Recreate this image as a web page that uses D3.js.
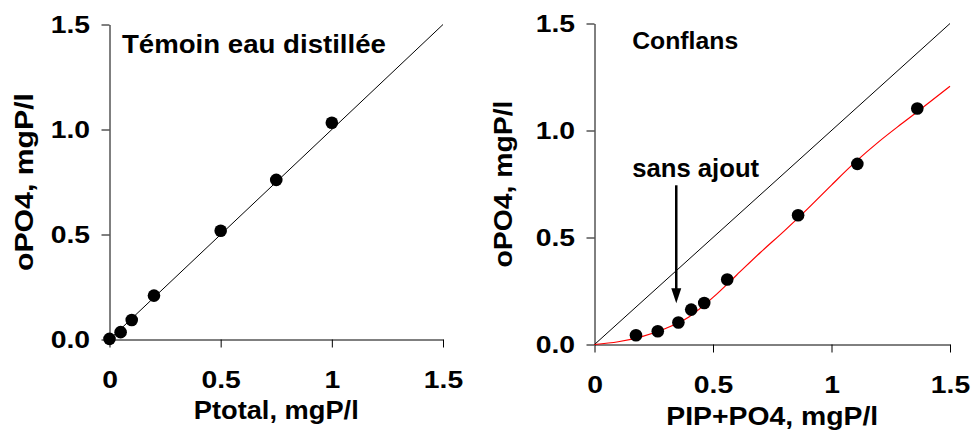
<!DOCTYPE html>
<html>
<head>
<meta charset="utf-8">
<script src="https://cdn.jsdelivr.net/npm/d3@7"></script>
<style>
  body { margin: 0; background: #fff; }
  svg { display: block; font-family: "Liberation Sans", Arial, sans-serif; }
</style>
</head>
<body>
<svg id="chart" width="971" height="435"></svg>
<script>
// left panel : distilled water control
const leftX = [0, 0.05, 0.1, 0.2, 0.5, 0.75, 1.0];
const leftY = [0.003, 0.035, 0.093, 0.209, 0.518, 0.76, 1.032];

// right panel : Conflans
const rightX = [0.175, 0.267, 0.354, 0.408, 0.463, 0.56, 0.859, 1.109, 1.362];
const rightY = [0.043, 0.062, 0.103, 0.163, 0.194, 0.304, 0.604, 0.844, 1.103];

// red fitted curve
const fitX = [0, 0.1, 0.2, 0.3, 0.4, 0.5, 0.6, 0.7, 0.8, 0.9, 1.0, 1.1, 1.2, 1.3, 1.4, 1.5];
const fitY = [0, 0.013, 0.037, 0.075, 0.13, 0.22, 0.325, 0.43, 0.53, 0.635, 0.745, 0.852, 0.948, 1.035, 1.12, 1.207];

// 1:1 line
const oneToOne = [0, 1.5];

const xTicks = [0, 0.5, 1, 1.5];
const yTicks = [0, 0.5, 1.0, 1.5];

const svg = d3.select("#chart");

function panel(opt) {
  const x = d3.scaleLinear().domain([0, 1.5]).range([opt.left, opt.right]);
  const y = d3.scaleLinear().domain([0, 1.5]).range([opt.bottom, opt.top]);
  const g = svg.append("g");

  const xAxis = g.append("g")
    .attr("transform", `translate(0,${opt.bottom})`)
    .call(d3.axisBottom(x).tickValues(xTicks).tickSize(8).tickSizeOuter(0).tickPadding(23)
      .tickFormat(d3.format("")));
  const yAxis = g.append("g")
    .attr("transform", `translate(${opt.left},0)`)
    .call(d3.axisLeft(y).tickValues(yTicks).tickSize(8).tickSizeOuter(0)
      .tickFormat(d3.format(".1f")));

  [xAxis, yAxis].forEach((a) => {
    a.select(".domain").attr("stroke", "#000").attr("stroke-width", 1);
    a.selectAll(".tick line").attr("stroke", "#000");
    a.selectAll("text")
      .attr("fill", "#000")
      .style("font-size", "24px")
      .style("font-weight", "bold")
      .attr("transform", "scale(1.18,1)");
  });
  yAxis.selectAll("text").attr("x", -19.5 / 1.18);

  // 1:1 line
  g.append("path")
    .datum(oneToOne)
    .attr("fill", "none")
    .attr("stroke", "#000")
    .attr("stroke-width", 1)
    .attr("d", d3.line().x((d) => x(d)).y((d) => y(d)));

  // axis titles
  g.append("text")
    .attr("x", (opt.left + opt.right) / 2)
    .attr("y", opt.xTitleY)
    .attr("text-anchor", "middle")
    .attr("textLength", opt.xTitleW)
    .attr("lengthAdjust", "spacingAndGlyphs")
    .style("font-size", "25px")
    .style("font-weight", "bold")
    .text(opt.xTitle);

  g.append("text")
    .attr("transform", `translate(${opt.yTitleX},${(opt.top + opt.bottom) / 2}) rotate(-90)`)
    .attr("text-anchor", "middle")
    .attr("textLength", opt.yTitleW)
    .attr("lengthAdjust", "spacingAndGlyphs")
    .style("font-size", "25px")
    .style("font-weight", "bold")
    .text("oPO4, mgP/l");

  return { g, x, y };
}

// ---- left panel
const L = panel({
  left: 109.5, right: 443, top: 24.5, bottom: 339.5,
  xTitle: "Ptotal, mgP/l", xTitleY: 419, xTitleW: 165,
  yTitleX: 33, yTitleW: 178
});

L.g.append("text")
  .attr("x", L.x(0.056))
  .attr("y", L.y(1.364))
  .attr("textLength", 264)
  .attr("lengthAdjust", "spacingAndGlyphs")
  .style("font-size", "25px")
  .style("font-weight", "bold")
  .text("Témoin eau distillée");

L.g.selectAll("circle")
  .data(leftX.map((v, i) => [v, leftY[i]]))
  .join("circle")
  .attr("cx", (d) => L.x(d[0]))
  .attr("cy", (d) => L.y(d[1]))
  .attr("r", 6.3)
  .attr("fill", "#000");

// ---- right panel
const R = panel({
  left: 594.5, right: 950, top: 23.5, bottom: 344.5,
  xTitle: "PIP+PO4, mgP/l", xTitleY: 425, xTitleW: 212,
  yTitleX: 512, yTitleW: 167
});

R.g.append("path")
  .datum(fitX.map((v, i) => [v, fitY[i]]))
  .attr("fill", "none")
  .attr("stroke", "#ff0000")
  .attr("stroke-width", 1.2)
  .attr("d", d3.line().x((d) => R.x(d[0])).y((d) => R.y(d[1])).curve(d3.curveMonotoneX));

R.g.selectAll("circle")
  .data(rightX.map((v, i) => [v, rightY[i]]))
  .join("circle")
  .attr("cx", (d) => R.x(d[0]))
  .attr("cy", (d) => R.y(d[1]))
  .attr("r", 6.3)
  .attr("fill", "#000");

R.g.append("text")
  .attr("x", R.x(0.159))
  .attr("y", R.y(1.38))
  .attr("textLength", 106)
  .attr("lengthAdjust", "spacingAndGlyphs")
  .style("font-size", "24px")
  .style("font-weight", "bold")
  .text("Conflans");

R.g.append("text")
  .attr("x", R.x(0.159))
  .attr("y", R.y(0.782))
  .attr("textLength", 127)
  .attr("lengthAdjust", "spacingAndGlyphs")
  .style("font-size", "25px")
  .style("font-weight", "bold")
  .text("sans ajout");

// arrow pointing at the unspiked sample
const ax = R.x(0.345), ay0 = R.y(0.744), ay1 = R.y(0.193);
R.g.append("line")
  .attr("x1", ax).attr("x2", ax)
  .attr("y1", ay0).attr("y2", ay1 - 12)
  .attr("stroke", "#000")
  .attr("stroke-width", 2.5);
R.g.append("path")
  .attr("d", `M${ax - 5},${ay1 - 15}L${ax + 5},${ay1 - 15}L${ax},${ay1}Z`)
  .attr("fill", "#000");
</script>
</body>
</html>
